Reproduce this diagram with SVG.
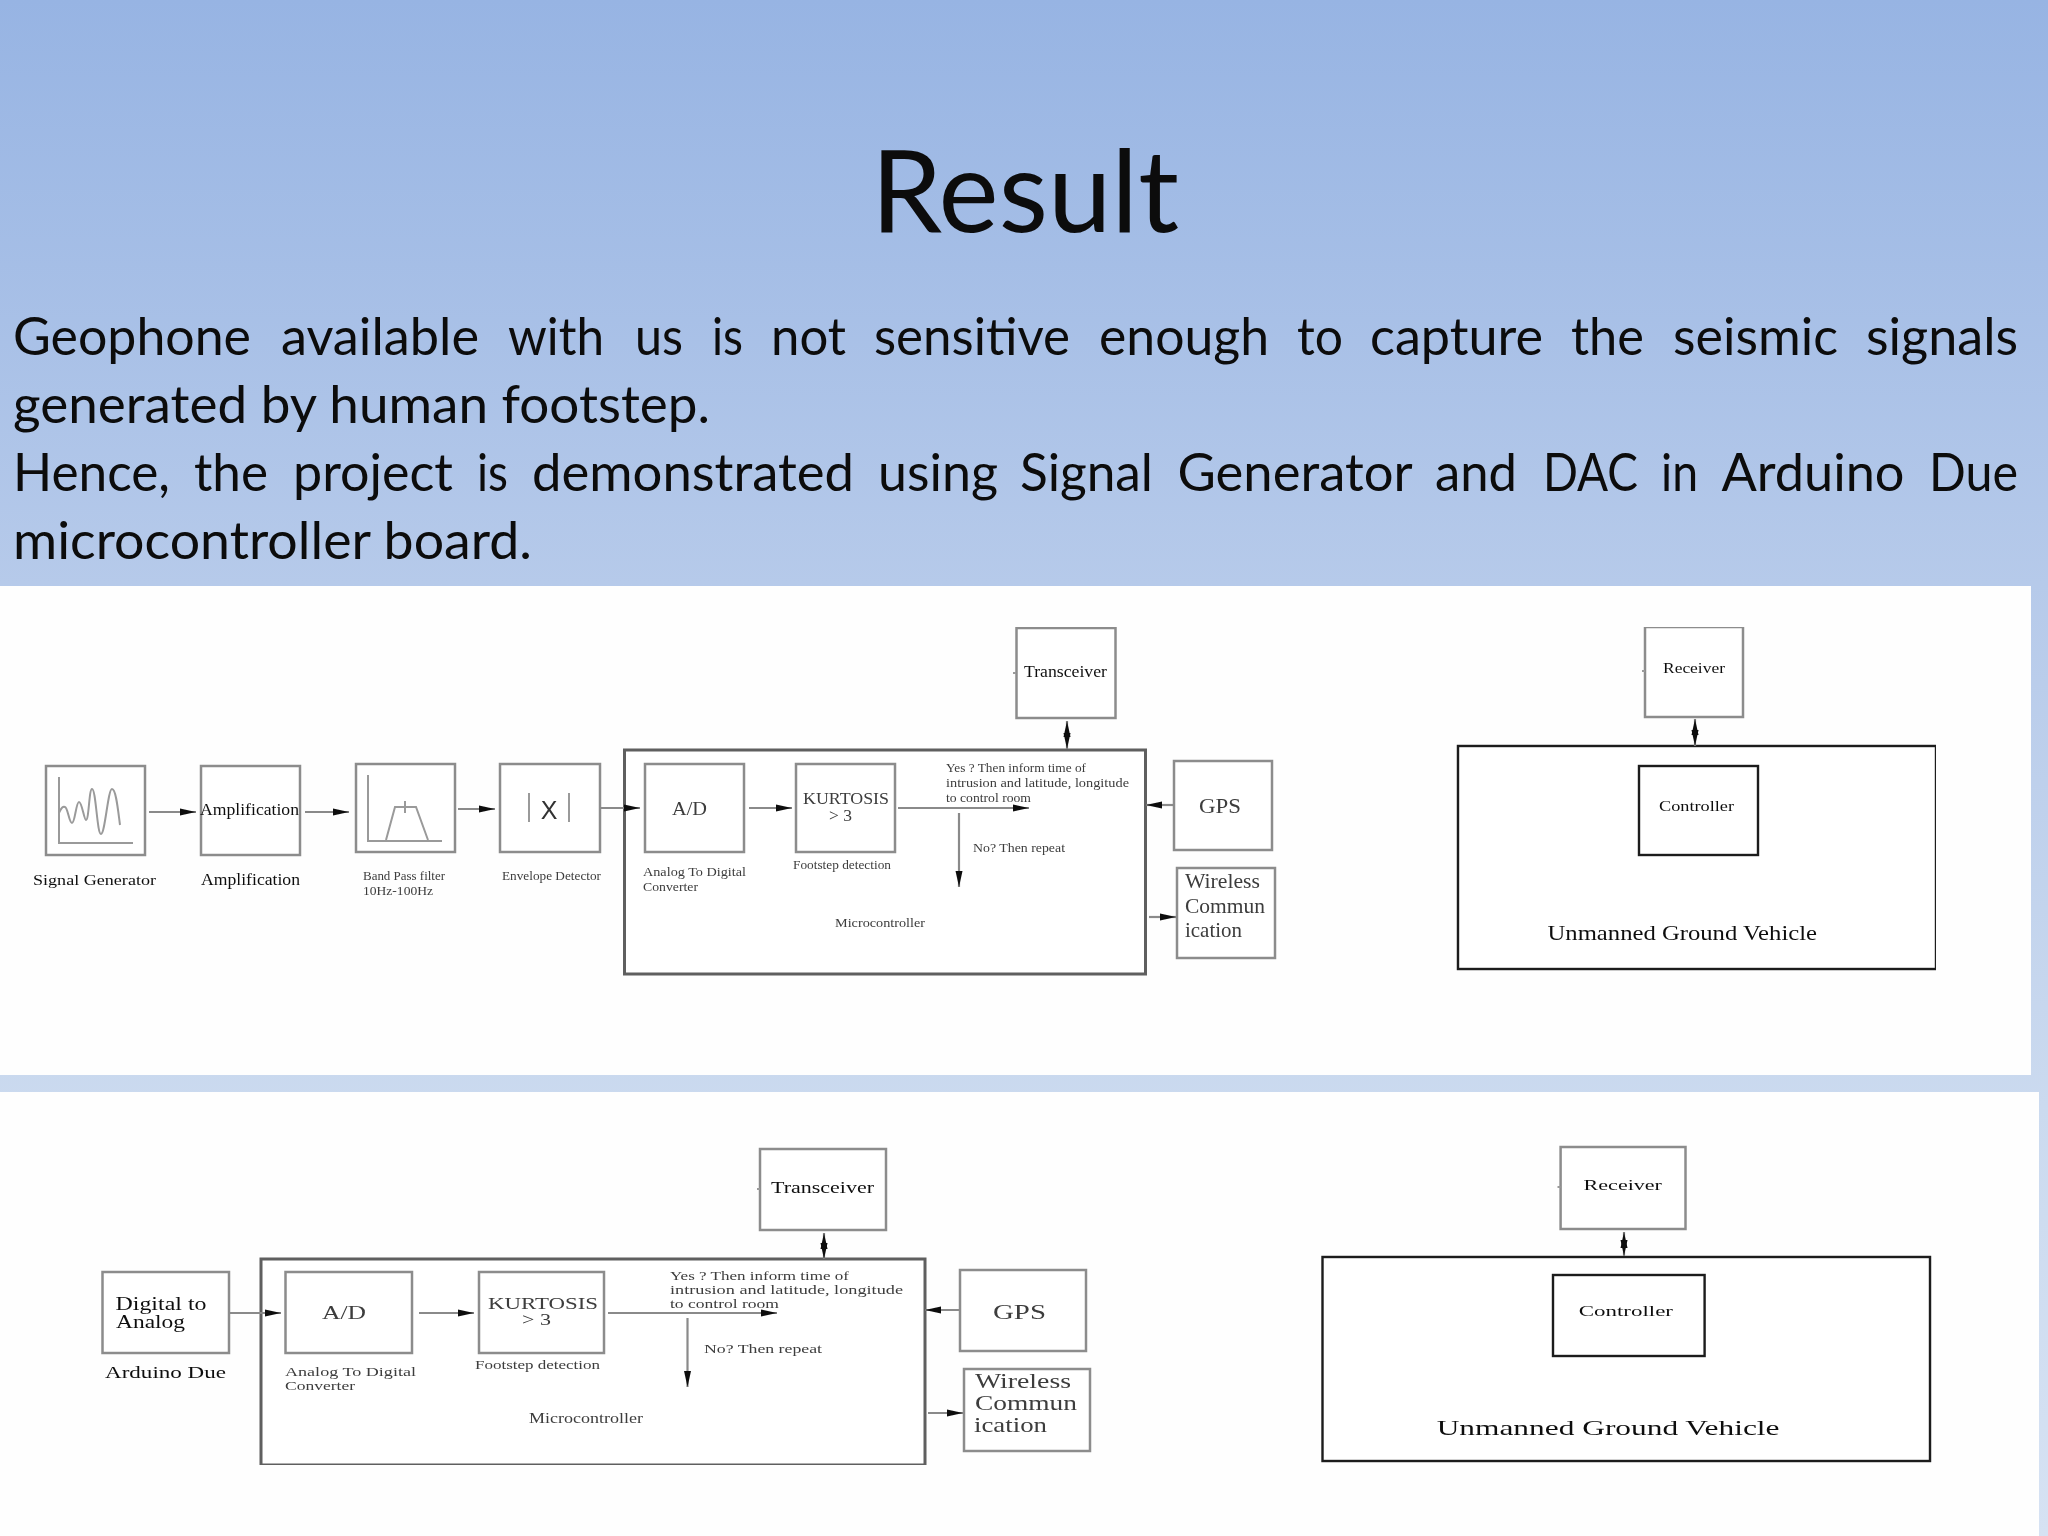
<svg xmlns="http://www.w3.org/2000/svg" width="2048" height="1536" viewBox="0 0 2048 1536">
<style>
.box{fill:#fff;stroke:#8c8c8c;stroke-width:2.5}
.frame{fill:#fff;stroke:#5f5f5f;stroke-width:3}
.ink{fill:#fff;stroke:#1c1c1c;stroke-width:2.4}
.icon{fill:none;stroke:#9a9a9a;stroke-width:2}
.wire{fill:none;stroke:#8a8a8a;stroke-width:2.2}
.t{font-family:"Liberation Serif","Times New Roman",serif;fill:#111}
.g{font-family:"Liberation Serif","Times New Roman",serif;fill:#3c3c3c}
.h{font-family:Lato,"Noto Sans",sans-serif;fill:#0c0c0c}
</style>
<defs>
<linearGradient id="bg" x1="0" y1="0" x2="0" y2="1">
<stop offset="0" stop-color="#97b4e3"/>
<stop offset="0.38" stop-color="#b6caea"/>
<stop offset="0.72" stop-color="#cbdaef"/>
<stop offset="1" stop-color="#d6e2f3"/>
</linearGradient>
<marker id="head" markerUnits="userSpaceOnUse" markerWidth="17" markerHeight="9" refX="16" refY="4.500" orient="auto-start-reverse">
<path d="M0 1L16 4.500L0 8Z" fill="#111"/>
</marker>
<filter id="soft" x="0" y="0" width="1" height="1"><feGaussianBlur stdDeviation="0.55"/></filter>
</defs>
<rect id="background" width="2048" height="1536" fill="url(#bg)"/>
<text class="h" x="871" y="232" font-size="114" textLength="308" lengthAdjust="spacingAndGlyphs">Result</text>
<g id="body-text" font-size="53">
<text class="h" y="355"><tspan x="13" textLength="238" lengthAdjust="spacingAndGlyphs">Geophone</tspan> <tspan x="281" textLength="198" lengthAdjust="spacingAndGlyphs">available</tspan> <tspan x="508" textLength="96" lengthAdjust="spacingAndGlyphs">with</tspan> <tspan x="635" textLength="48" lengthAdjust="spacingAndGlyphs">us</tspan> <tspan x="712" textLength="31" lengthAdjust="spacingAndGlyphs">is</tspan> <tspan x="771" textLength="75" lengthAdjust="spacingAndGlyphs">not</tspan> <tspan x="874" textLength="196" lengthAdjust="spacingAndGlyphs">sensitive</tspan> <tspan x="1099" textLength="170" lengthAdjust="spacingAndGlyphs">enough</tspan> <tspan x="1297" textLength="46" lengthAdjust="spacingAndGlyphs">to</tspan> <tspan x="1370" textLength="173" lengthAdjust="spacingAndGlyphs">capture</tspan> <tspan x="1571" textLength="73" lengthAdjust="spacingAndGlyphs">the</tspan> <tspan x="1673" textLength="165" lengthAdjust="spacingAndGlyphs">seismic</tspan> <tspan x="1866" textLength="152" lengthAdjust="spacingAndGlyphs">signals</tspan></text>
<text class="h" x="13" y="423" textLength="697" lengthAdjust="spacingAndGlyphs">generated by human footstep.</text>
<text class="h" y="491"><tspan x="13" textLength="157" lengthAdjust="spacingAndGlyphs">Hence,</tspan> <tspan x="194" textLength="74" lengthAdjust="spacingAndGlyphs">the</tspan> <tspan x="293" textLength="160" lengthAdjust="spacingAndGlyphs">project</tspan> <tspan x="477" textLength="31" lengthAdjust="spacingAndGlyphs">is</tspan> <tspan x="532" textLength="322" lengthAdjust="spacingAndGlyphs">demonstrated</tspan> <tspan x="878" textLength="120" lengthAdjust="spacingAndGlyphs">using</tspan> <tspan x="1020" textLength="133" lengthAdjust="spacingAndGlyphs">Signal</tspan> <tspan x="1177.500" textLength="234" lengthAdjust="spacingAndGlyphs">Generator</tspan> <tspan x="1435" textLength="82" lengthAdjust="spacingAndGlyphs">and</tspan> <tspan x="1543" textLength="95" lengthAdjust="spacingAndGlyphs">DAC</tspan> <tspan x="1661" textLength="37" lengthAdjust="spacingAndGlyphs">in</tspan> <tspan x="1721.500" textLength="183" lengthAdjust="spacingAndGlyphs">Arduino</tspan> <tspan x="1929" textLength="89" lengthAdjust="spacingAndGlyphs">Due</tspan></text>
<text class="h" x="13" y="559" textLength="519" lengthAdjust="spacingAndGlyphs">microcontroller board.</text>
</g>
<rect id="panel-top" x="0" y="586" width="2031" height="489" fill="#fefefe"/>
<rect id="panel-bottom" x="0" y="1092" width="2039" height="444" fill="#fefefe"/>

<g id="diagrams" filter="url(#soft)">
<g id="top-microcontroller"><rect class="frame" x="624.500" y="750" width="521" height="224"/>
<text class="g" x="835" y="927" font-size="13" textLength="90" lengthAdjust="spacingAndGlyphs">Microcontroller</text></g>
<g id="top-signal-generator"><rect class="box" x="46" y="766" width="99" height="89"/>
<path class="icon" d="M59 777V843H133"/>
<path class="icon" d="M59 813C61 808 63 806 65 807C68 808 69 823 72 823C75 823 76 802 79 802C82 802 84 820 86 820C89 820 89 789 92 789C96 789 97 834 101 834C105 834 108 789 112 789C116 789 118 810 120 825"/>
<text class="t" x="33" y="885" font-size="15" textLength="123" lengthAdjust="spacingAndGlyphs">Signal Generator</text></g>
<g id="top-amplification"><rect class="box" x="201" y="766" width="99" height="89"/>
<text class="t" x="200" y="815" font-size="16" textLength="99" lengthAdjust="spacingAndGlyphs">Amplification</text>
<text class="t" x="201" y="885" font-size="16" textLength="99" lengthAdjust="spacingAndGlyphs">Amplification</text></g>
<g id="top-band-pass"><rect class="box" x="356" y="764" width="99" height="88"/>
<path class="icon" d="M368 775V841H442M386 840L395 807H416L428 840M405 801V813"/>
<text class="g" x="363" y="880" font-size="12.500" textLength="82" lengthAdjust="spacingAndGlyphs">Band Pass filter</text>
<text class="g" x="363" y="895" font-size="12.500" textLength="70" lengthAdjust="spacingAndGlyphs">10Hz-100Hz</text></g>
<g id="top-envelope"><rect class="box" x="500" y="764" width="100" height="88"/>
<path class="icon" d="M529 793V822M569 793V822" stroke="#777"/>
<text x="549" y="819" font-size="25" text-anchor="middle" font-family="'Liberation Sans',Arial,sans-serif" fill="#333">X</text>
<text class="g" x="502" y="880" font-size="12.500" textLength="99" lengthAdjust="spacingAndGlyphs">Envelope Detector</text></g>
<g id="top-ad"><rect class="box" x="645" y="764" width="99" height="88"/>
<text class="g" x="672" y="815" font-size="19" textLength="35" lengthAdjust="spacingAndGlyphs">A/D</text>
<text class="g" x="643" y="876" font-size="13" textLength="103" lengthAdjust="spacingAndGlyphs">Analog To Digital</text>
<text class="g" x="643" y="891" font-size="13" textLength="55" lengthAdjust="spacingAndGlyphs">Converter</text></g>
<g id="top-kurtosis"><rect class="box" x="796" y="764" width="99" height="88"/>
<text class="g" x="803" y="804" font-size="17" textLength="86" lengthAdjust="spacingAndGlyphs">KURTOSIS</text>
<text class="g" x="829" y="821" font-size="17" textLength="23" lengthAdjust="spacingAndGlyphs">&gt; 3</text>
<text class="g" x="793" y="869" font-size="13" textLength="98" lengthAdjust="spacingAndGlyphs">Footstep detection</text></g>
<g id="top-decision">
<text class="g" x="946" y="772" font-size="12.500" textLength="140" lengthAdjust="spacingAndGlyphs">Yes ? Then inform time of</text>
<text class="g" x="946" y="787" font-size="12.500" textLength="183" lengthAdjust="spacingAndGlyphs">intrusion and latitude, longitude</text>
<text class="g" x="946" y="802" font-size="12.500" textLength="85" lengthAdjust="spacingAndGlyphs">to control room</text>
<text class="g" x="973" y="852" font-size="13" textLength="92" lengthAdjust="spacingAndGlyphs">No? Then repeat</text></g>
<g id="top-transceiver"><rect class="box" x="1016.500" y="628" width="99" height="90"/>
<path class="icon" d="M1013 673H1016"/>
<text class="t" x="1024" y="677" font-size="16" textLength="83" lengthAdjust="spacingAndGlyphs">Transceiver</text></g>
<g id="top-gps"><rect class="box" x="1174" y="761" width="98" height="89"/>
<text class="g" x="1199" y="813" font-size="21" textLength="42" lengthAdjust="spacingAndGlyphs">GPS</text></g>
<g id="top-wireless"><rect class="box" x="1177" y="868" width="98" height="90"/>
<text class="g" x="1185" y="888" font-size="21" textLength="75" lengthAdjust="spacingAndGlyphs">Wireless</text>
<text class="g" x="1185" y="913" font-size="21" textLength="80" lengthAdjust="spacingAndGlyphs">Commun</text>
<text class="g" x="1185" y="937" font-size="21" textLength="57" lengthAdjust="spacingAndGlyphs">ication</text></g>
<g id="top-ugv"><rect class="ink" x="1458" y="746" width="478" height="223"/>
<text class="t" x="1547.500" y="940" font-size="22" textLength="269.500" lengthAdjust="spacingAndGlyphs">Unmanned Ground Vehicle</text></g>
<g id="top-controller"><rect class="ink" x="1639" y="766" width="119" height="89"/>
<text class="t" x="1659" y="811" font-size="15" textLength="75" lengthAdjust="spacingAndGlyphs">Controller</text></g>
<g id="top-receiver"><rect class="box" x="1645" y="627" width="98" height="90"/>
<path class="icon" d="M1642 671H1645"/>
<text class="t" x="1663" y="673" font-size="15" textLength="62" lengthAdjust="spacingAndGlyphs">Receiver</text></g>

<g id="bottom-microcontroller"><rect class="frame" x="261" y="1259" width="664" height="206"/>
<text class="g" x="529" y="1423" font-size="14" textLength="114" lengthAdjust="spacingAndGlyphs">Microcontroller</text></g>
<g id="bottom-dac"><rect class="box" x="102.500" y="1272" width="126.500" height="81"/>
<text class="t" x="115.500" y="1310" font-size="18" textLength="91" lengthAdjust="spacingAndGlyphs">Digital to</text>
<text class="t" x="116" y="1328" font-size="18" textLength="69" lengthAdjust="spacingAndGlyphs">Analog</text>
<text class="t" x="105" y="1378" font-size="17" textLength="121" lengthAdjust="spacingAndGlyphs">Arduino Due</text></g>
<g id="bottom-ad"><rect class="box" x="285.500" y="1272" width="126.500" height="81"/>
<text class="g" x="322" y="1319" font-size="19" textLength="44" lengthAdjust="spacingAndGlyphs">A/D</text>
<text class="g" x="285" y="1376" font-size="13" textLength="131" lengthAdjust="spacingAndGlyphs">Analog To Digital</text>
<text class="g" x="285" y="1390" font-size="13" textLength="70" lengthAdjust="spacingAndGlyphs">Converter</text></g>
<g id="bottom-kurtosis"><rect class="box" x="479" y="1272" width="125" height="81"/>
<text class="g" x="488" y="1309" font-size="16" textLength="110" lengthAdjust="spacingAndGlyphs">KURTOSIS</text>
<text class="g" x="522" y="1325" font-size="16" textLength="29" lengthAdjust="spacingAndGlyphs">&gt; 3</text>
<text class="g" x="475" y="1369" font-size="13" textLength="125" lengthAdjust="spacingAndGlyphs">Footstep detection</text></g>
<g id="bottom-decision">
<text class="g" x="670" y="1280" font-size="12.500" textLength="179" lengthAdjust="spacingAndGlyphs">Yes ? Then inform time of</text>
<text class="g" x="670" y="1294" font-size="12.500" textLength="233" lengthAdjust="spacingAndGlyphs">intrusion and latitude, longitude</text>
<text class="g" x="670" y="1308" font-size="12.500" textLength="109" lengthAdjust="spacingAndGlyphs">to control room</text>
<text class="g" x="704" y="1353" font-size="13" textLength="118" lengthAdjust="spacingAndGlyphs">No? Then repeat</text></g>
<g id="bottom-transceiver"><rect class="box" x="760" y="1149" width="126" height="81"/>
<path class="icon" d="M757 1189H760"/>
<text class="t" x="771" y="1193" font-size="16" textLength="103" lengthAdjust="spacingAndGlyphs">Transceiver</text></g>
<g id="bottom-gps"><rect class="box" x="960" y="1270" width="126" height="81"/>
<text class="g" x="993" y="1319" font-size="20" textLength="53" lengthAdjust="spacingAndGlyphs">GPS</text></g>
<g id="bottom-wireless"><rect class="box" x="964" y="1369" width="126" height="82"/>
<text class="g" x="975" y="1388" font-size="21" textLength="96" lengthAdjust="spacingAndGlyphs">Wireless</text>
<text class="g" x="975" y="1410" font-size="21" textLength="102" lengthAdjust="spacingAndGlyphs">Commun</text>
<text class="g" x="974" y="1432" font-size="21" textLength="73" lengthAdjust="spacingAndGlyphs">ication</text></g>
<g id="bottom-ugv"><rect class="ink" x="1322.500" y="1257" width="607.500" height="204"/>
<text class="t" x="1436.700" y="1435" font-size="22" textLength="342.800" lengthAdjust="spacingAndGlyphs">Unmanned Ground Vehicle</text></g>
<g id="bottom-controller"><rect class="ink" x="1553" y="1275" width="151.600" height="81"/>
<text class="t" x="1578.700" y="1316" font-size="15" textLength="94.300" lengthAdjust="spacingAndGlyphs">Controller</text></g>
<g id="bottom-receiver"><rect class="box" x="1560.600" y="1147" width="124.900" height="82"/>
<path class="icon" d="M1557.500 1187H1560.500"/>
<text class="t" x="1583.600" y="1190" font-size="15" textLength="78.400" lengthAdjust="spacingAndGlyphs">Receiver</text></g>

<g id="connectors" class="wire" marker-end="url(#head)">
<path d="M149 812H196"/>
<path d="M305 812H349"/>
<path d="M458 809H495"/>
<path d="M600 808H640"/>
<path d="M749 808H792"/>
<path d="M898 808H1029"/>
<path d="M959 813V887"/>
<path d="M1067 721V749" marker-start="url(#head)"/>
<path d="M1174 805H1146"/>
<path d="M1149 917H1176"/>
<path d="M1695 719V746" marker-start="url(#head)"/>
<path d="M230 1313H281"/>
<path d="M419 1313H474"/>
<path d="M608 1313H777"/>
<path d="M687.500 1318V1387"/>
<path d="M824 1233V1259" marker-start="url(#head)"/>
<path d="M960 1310H925"/>
<path d="M928 1413H963"/>
<path d="M1624 1232V1256" marker-start="url(#head)"/>
</g>
</g>
</svg>
